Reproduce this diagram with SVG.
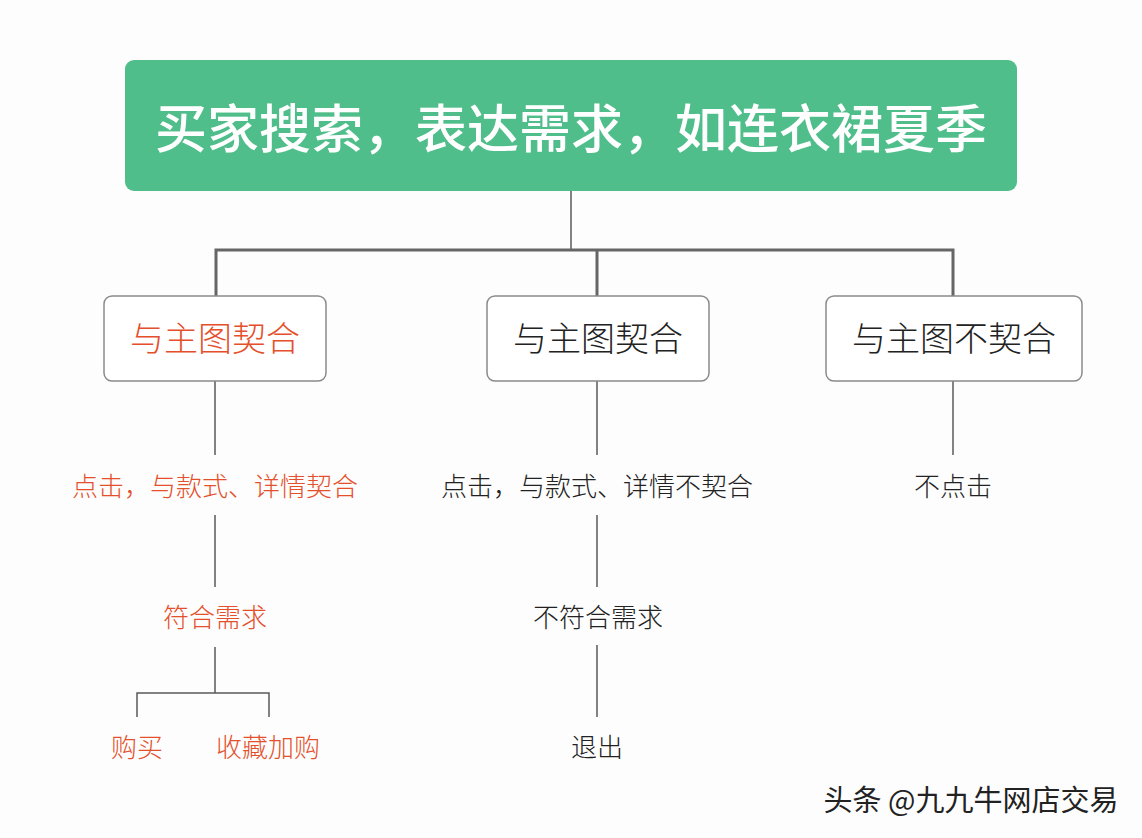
<svg xmlns="http://www.w3.org/2000/svg" width="1142" height="838" viewBox="0 0 1142 838">
<style>
.t{font-family:"Noto Sans CJK SC","Noto Sans",sans-serif;text-anchor:middle}
.box{fill:#fff;stroke:#8a8a8a;stroke-width:1.5}
.red{fill:#e4502b}
.blk{fill:#222}
.ln{stroke:#5a5a5a;stroke-width:1.5;fill:none}
.main{stroke:#666;stroke-width:3;fill:none}
</style>
<rect width="1142" height="838" fill="#fdfdfd"/>
<g id="connectors">
<path class="ln" d="M571 191V250"/>
<path class="main" d="M216 251.5V250H953V296M216 250V296M597 250V296"/>
<path class="ln" d="M215 381V455M215 515V587M215 647V693M137 717V693H269V717"/>
<path class="ln" d="M597 381V455M597 515V587M597 645V717"/>
<path class="ln" d="M953 381V455"/>
</g>
<g id="root">
<rect x="125" y="60" width="892" height="131" rx="9" fill="#4fbe8b"/>
<text class="t" x="571" y="148" font-size="52" font-weight="500" fill="#fff">买家搜索，表达需求，如连衣裙夏季</text>
</g>
<g id="n1">
<rect class="box" x="104" y="296" width="222" height="85" rx="8"/>
<text class="t red" x="215" y="351" font-size="34" font-weight="300">与主图契合</text>
</g>
<g id="n2">
<rect class="box" x="487" y="296" width="222" height="85" rx="8"/>
<text class="t blk" x="598" y="351" font-size="34" font-weight="300">与主图契合</text>
</g>
<g id="n3">
<rect class="box" x="826" y="296" width="256" height="85" rx="8"/>
<text class="t blk" x="954" y="351" font-size="34" font-weight="300">与主图不契合</text>
</g>
<g id="n1a"><text class="t red" x="215" y="496" font-size="26" font-weight="300">点击，与款式、详情契合</text></g>
<g id="n1b"><text class="t red" x="215" y="627" font-size="26" font-weight="300">符合需求</text></g>
<g id="n1c"><text class="t red" x="137" y="757" font-size="26" font-weight="300">购买</text></g>
<g id="n1d"><text class="t red" x="268" y="757" font-size="26" font-weight="300">收藏加购</text></g>
<g id="n2a"><text class="t blk" x="597" y="496" font-size="26" font-weight="300">点击，与款式、详情不契合</text></g>
<g id="n2b"><text class="t blk" x="598" y="627" font-size="26" font-weight="300">不符合需求</text></g>
<g id="n2c"><text class="t blk" x="597" y="757" font-size="26" font-weight="300">退出</text></g>
<g id="n3a"><text class="t blk" x="953" y="496" font-size="26" font-weight="300">不点击</text></g>
<g id="watermark"><text class="t" x="971" y="811" font-size="29" fill="#222" font-weight="400">头条 @九九牛网店交易</text></g>
</svg>
